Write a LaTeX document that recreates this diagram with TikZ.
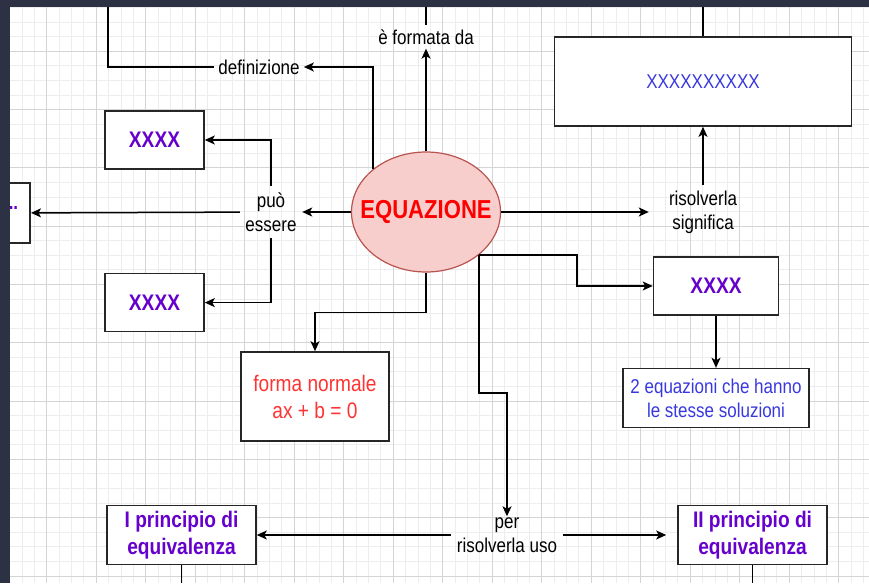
\documentclass[tikz,border=0pt]{standalone}
\usepackage{fontspec}
\setmainfont[FakeStretch=0.85]{Liberation Sans}
\usetikzlibrary{shapes.geometric,arrows.meta,positioning}

\definecolor{frame}{RGB}{44,50,68}
\definecolor{eqfill}{HTML}{F8CECC}
\definecolor{eqdraw}{HTML}{B85450}
\definecolor{purp}{HTML}{6600CC}
\definecolor{blu}{HTML}{3838E0}
\definecolor{rosso}{HTML}{FF3333}

\begin{document}
\begin{tikzpicture}[x=1pt,y=-1pt,
    cbox/.style={draw=black!85,line width=1.6pt,fill=white,inner sep=0pt,align=center},
    bxtext/.style={font=\fontsize{22.5}{27}\selectfont\bfseries,text=purp},
    lbl/.style={font=\fontsize{20}{24}\selectfont,align=center,inner sep=1pt},
    conn/.style={line width=1.5pt},
    arr/.style={conn,-{Stealth[length=10pt,width=9pt,inset=2.5pt]}},
    minorgrid/.style={draw=black!7,line width=0.8pt},
    majorgrid/.style={draw=black!17,line width=0.8pt}]
    \useasboundingbox (0,0) rectangle (869,583);

    \foreach \gx in {0,...,70} \draw[minorgrid] ({-2.8+12.375*\gx},7) -- ({-2.8+12.375*\gx},583);
    \foreach \gy in {0,...,41} \draw[minorgrid] (10,{-7.1+14.575*\gy}) -- (869,{-7.1+14.575*\gy});
    \foreach \gx in {0,...,17} \draw[majorgrid] ({-2.8+49.5*\gx},7) -- ({-2.8+49.5*\gx},583);
    \foreach \gy in {0,...,10} \draw[majorgrid] (10,{-7.1+58.3*\gy}) -- (869,{-7.1+58.3*\gy});

    \node[ellipse,draw=eqdraw,line width=1.2pt,fill=eqfill,minimum width=149pt,minimum height=120pt,inner sep=0pt,
        font=\fontsize{26}{30}\selectfont\bfseries,text=red] (eq) at (426,212) {\makebox[0pt]{EQUAZIONE}};

    \node[cbox,minimum width=297pt,minimum height=89pt,font=\fontsize{20}{24}\selectfont,text=blu] (sol) at (703,81.5) {XXXXXXXXXX};
    \node[cbox,bxtext,minimum width=99pt,minimum height=58pt] (xl) at (154.5,140) {XXXX};
    \node[cbox,bxtext,minimum width=99pt,minimum height=58pt,below=103pt of xl] (xl2) {XXXX};
    \node[cbox,text=purp,font=\fontsize{20}{24}\selectfont\bfseries,anchor=east,minimum height=60pt,text width=30pt,align=right,inner xsep=12pt] (cut) at (31,213) {\raisebox{0.45em}{..}};
    \node[cbox,bxtext,minimum width=125pt,minimum height=58pt] (xr) at (716,286) {XXXX};
    \node[cbox,minimum width=186pt,minimum height=59pt,font=\fontsize{20}{24}\selectfont,text=blu,below=52pt of xr] (eq2) {2 equazioni che hanno\\le stesse soluzioni};
    \node[cbox,minimum width=148pt,minimum height=89pt,font=\fontsize{22.5}{27}\selectfont,text=rosso] (fn) at (315,396.5) {forma normale\\ax + b = 0};
    \node[cbox,bxtext,minimum width=149pt,minimum height=59pt] (p1) at (181.5,535) {I principio di\\equivalenza};
    \node[cbox,bxtext,minimum width=149pt,minimum height=59pt] (p2) at (752.5,535) {II principio di\\equivalenza};

    \node[lbl,inner xsep=4pt] (def) at (259,67) {definizione};
    \node[lbl,inner ysep=4pt] (form) at (426,37) {è formata da};
    \node[lbl,minimum width=62pt,minimum height=52pt] (puo) at (271,212) {può\\essere};
    \node[lbl,minimum width=108pt,minimum height=54pt] (sig) at (703,212) {risolverla\\significa};
    \node[lbl,minimum width=112pt] (uso) at (507,535) {per\\risolverla uso};

    \coordinate (t1) at (108,7);
    \coordinate (t2) at (426,7);
    \coordinate (t3) at (703,7);
    \coordinate (b1) at (181.5,583);
    \coordinate (b2) at (752.5,583);

    \draw[arr] (eq.north west) |- (def);
    \draw[conn] (def) -| (t1);
    \draw[arr] (eq) -- (form);
    \draw[conn] (form) -- (t2);
    \draw[conn] (sol) -- (t3);
    \draw[arr] (eq) -- (sig);
    \draw[arr] (sig) -- (sol);
    \draw[arr] (eq) -- (puo);
    \draw[arr] (puo) -- (cut);
    \draw[arr] (puo) |- (xl);
    \draw[arr] (puo) |- (xl2);
    \draw[arr] (eq.south east) -- ++(98,0) |- (xr);
    \draw[arr] (xr) -- (eq2);
    \draw[arr] (eq.south) -- ++(0,40) -| (fn);
    \draw[arr] (eq.south east) -- ++(0,138) -| (uso);
    \draw[arr] (uso) -- (p1);
    \draw[arr,shorten >=11pt] (uso) -- (p2);
    \draw[conn] (p1) -- (b1);
    \draw[conn] (p2) -- (b2);

    \fill[frame] (0,0) rectangle (869,7);
    \fill[frame] (0,0) rectangle (10,583);
\end{tikzpicture}
\end{document}
